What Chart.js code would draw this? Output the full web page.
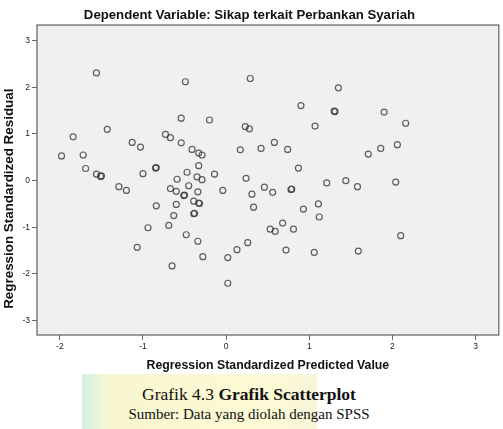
<!DOCTYPE html>
<html><head><meta charset="utf-8">
<script src="https://cdn.jsdelivr.net/npm/chart.js@4.4.1/dist/chart.umd.min.js"></script>
<style>
html,body{margin:0;padding:0;background:#fff;}
#wrap{position:relative;width:503px;height:429px;overflow:hidden;background:#fff;}
#chartBox{position:absolute;left:0;top:0;width:503px;height:380px;}
#wm{position:absolute;left:82px;top:374px;width:235px;height:55px;
 background:linear-gradient(to right,#d6efe6 0%,#e4f3dc 5%,#f7f6d0 11%,#fbf8d2 40%,#fcf9d6 85%,#f6f5da 100%);}
.cap{position:absolute;left:0;width:498px;text-align:center;font-family:"Liberation Serif","Times New Roman",serif;color:#111;white-space:nowrap;}
</style></head>
<body><div id="wrap">
<div id="wm"></div>
<div id="chartBox"><canvas id="c"></canvas></div>
<div class="cap" style="top:384px;font-size:17.5px;line-height:20px;">Grafik 4.3 <b>Grafik Scatterplot</b></div>
<div class="cap" style="top:406px;font-size:15px;line-height:16px;">Sumber: Data yang diolah dengan SPSS</div>
</div>
<script>
const chartTitle = "Dependent Variable: Sikap terkait Perbankan Syariah";
const xAxisTitle = "Regression Standardized Predicted Value";
const yAxisTitle = "Regression Standardized Residual";
const xTicks = [-2, -1, 0, 1, 2, 3];
const yTicks = [-3, -2, -1, 0, 1, 2, 3];
const predicted = [-1.56,-0.49,-0.54,-1.43,-1.84,-0.73,-0.67,-1.13,-1.03,-0.54,-0.41,-0.33,-0.29,-1.98,-1.72,-1.69,-0.85,-0.84,-0.33,-1.56,-1.51,-1.50,-1.00,-0.47,-0.59,-0.35,-0.29,-1.29,-1.20,-0.67,-0.60,-0.45,-0.51,-0.50,-0.34,-0.39,-0.33,-0.32,-0.84,-0.60,-0.63,-0.39,-0.38,-0.69,-0.94,-0.48,-0.34,-1.07,-0.65,-0.28,
 0.29,0.90,1.30,1.31,-0.20,0.23,0.28,1.07,0.58,0.17,0.42,0.74,0.87,-0.14,0.24,1.21,0.46,0.79,0.78,-0.04,0.56,0.31,0.33,0.93,1.11,1.12,0.68,0.53,0.59,0.81,0.26,0.13,0.72,1.06,0.02,0.02,1.35,1.90,2.16,2.06,1.86,1.71,1.44,1.58,2.04,2.10,1.59];
const residual = [2.31,2.12,1.34,1.10,0.94,0.99,0.92,0.82,0.72,0.81,0.67,0.59,0.55,0.53,0.55,0.26,0.27,0.28,0.32,0.14,0.09,0.10,0.15,0.18,0.03,0.08,0.02,-0.13,-0.21,-0.17,-0.23,-0.11,-0.32,-0.31,-0.24,-0.44,-0.48,-0.49,-0.54,-0.51,-0.75,-0.71,-0.70,-0.96,-1.01,-1.16,-1.30,-1.43,-1.83,-1.63,
 2.19,1.61,1.49,1.48,1.30,1.16,1.11,1.17,0.82,0.66,0.69,0.67,0.27,0.14,0.05,-0.05,-0.14,-0.18,-0.19,-0.21,-0.25,-0.29,-0.57,-0.61,-0.50,-0.78,-0.91,-1.04,-1.09,-1.04,-1.33,-1.48,-1.49,-1.54,-1.65,-2.20,1.99,1.47,1.23,0.77,0.69,0.57,0.00,-0.13,-0.03,-1.18,-1.51];

const points = predicted.map((x, i) => ({x: x, y: residual[i]}));
const axisColor = '#6a6a6a';

const plotFrame = {
  id: 'plotFrame',
  beforeDatasetsDraw(chart) {
    const a = chart.chartArea, ctx = chart.ctx;
    ctx.save(); ctx.fillStyle = '#f0f0f0';
    ctx.fillRect(a.left, a.top, a.right - a.left, a.bottom - a.top);
    ctx.restore();
  },
  afterDraw(chart) {
    const a = chart.chartArea, ctx = chart.ctx;
    ctx.save(); ctx.strokeStyle = axisColor; ctx.lineWidth = 1.3;
    ctx.strokeRect(a.left, a.top, a.right - a.left, a.bottom - a.top);
    ctx.translate(9.5, 198.7); ctx.rotate(-Math.PI / 2);
    ctx.font = 'bold 13.4px "Liberation Sans", Arial, sans-serif';
    ctx.fillStyle = '#111'; ctx.textAlign = 'center'; ctx.textBaseline = 'middle';
    ctx.fillText(yAxisTitle, 0, 0);
    ctx.restore();
  }
};

new Chart(document.getElementById('c'), {
  type: 'scatter',
  data: { datasets: [{
    data: points,
    pointStyle: 'circle',
    pointRadius: 3,
    pointBorderWidth: 1.2,
    pointBorderColor: 'rgba(45,45,45,0.75)',
    pointBackgroundColor: 'rgba(0,0,0,0)',
    pointHoverRadius: 3
  }]},
  options: {
    responsive: true, maintainAspectRatio: false, animation: false,
    layout: { padding: { left: 0, right: 4, top: 0, bottom: 0 } },
    plugins: {
      legend: { display: false }, tooltip: { enabled: false },
      title: { display: true, text: chartTitle, color: '#111',
        font: { family: '"Liberation Sans", Arial, sans-serif', size: 13.2, weight: 'bold', lineHeight: 1.2 },
        padding: { top: 7, bottom: 2.2 } }
    },
    scales: {
      x: {
        type: 'linear', min: -2.275, max: 3.28,
        afterFit(s) { s.height = 45; },
        afterBuildTicks(s) { s.ticks = xTicks.map(v => ({ value: v })); },
        grid: { drawOnChartArea: false, drawTicks: true, tickLength: 5, color: axisColor, tickColor: axisColor, tickWidth: 1 },
        border: { display: false },
        ticks: { color: '#222', padding: 2, font: { family: '"Liberation Sans", Arial, sans-serif', size: 8.5 } },
        title: { display: true, text: xAxisTitle, color: '#111',
          font: { family: '"Liberation Sans", Arial, sans-serif', size: 12.3, weight: 'bold', lineHeight: 1.2 },
          padding: { top: 0, bottom: 6.6 } }
      },
      y: {
        type: 'linear', min: -3.31, max: 3.336,
        afterFit(s) { s.width = 37; },
        afterBuildTicks(s) { s.ticks = yTicks.map(v => ({ value: v })); },
        grid: { drawOnChartArea: false, drawTicks: true, tickLength: 5, color: axisColor, tickColor: axisColor, tickWidth: 1 },
        border: { display: false },
        ticks: { color: '#222', padding: 2, font: { family: '"Liberation Sans", Arial, sans-serif', size: 8.5 } }
      }
    }
  },
  plugins: [plotFrame]
});
</script>
</body></html>
